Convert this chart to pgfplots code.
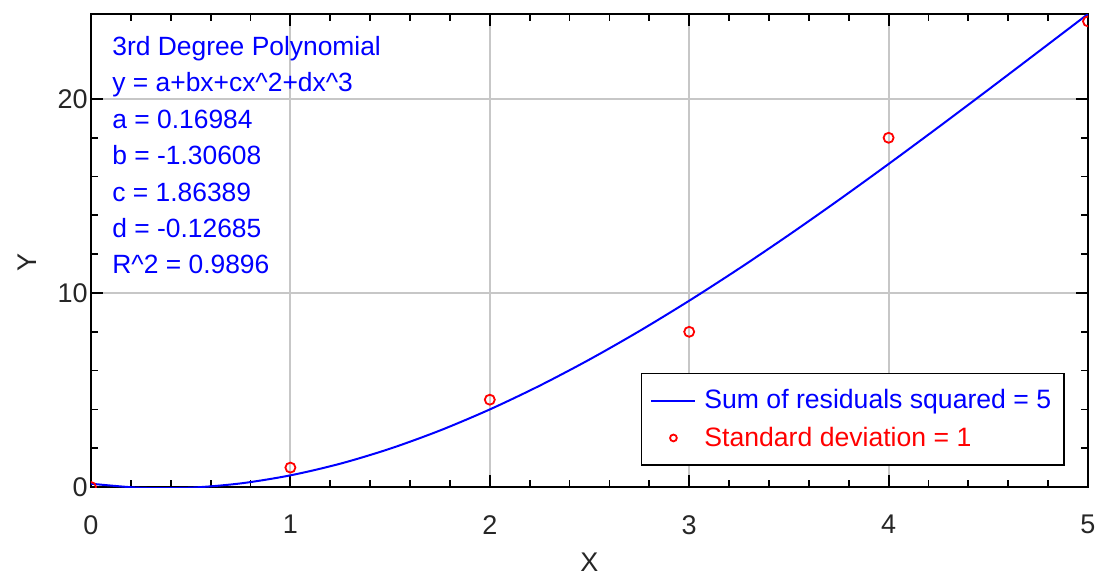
\documentclass[border=0pt]{standalone}
\usepackage{pgfplots}
\pgfplotsset{compat=1.18}
\usepackage{fontspec}
\setmainfont{Liberation Sans}
\pgfplotsset{
  lineleg/.style={legend image code/.code={\draw[##1] (0pt,0pt) -- (22pt,0pt);}},
  markleg/.style={legend image code/.code={\draw[##1, mark size=1.7pt] plot coordinates {(11pt,0pt)};}},
}
\begin{document}
\begin{tikzpicture}
\begin{axis}[
  scale only axis,
  width=498.5pt, height=236.5pt,
  xmin=0, xmax=5, ymin=0, ymax=24.38,
  xtick={0,1,2,3,4,5}, ytick={0,10,20},
  minor x tick num=4, minor y tick num=4,
  tick align=inside,
  major tick length=6pt, minor tick length=3.5pt,
  every tick/.style={black, line width=0.9pt},
  axis line style={black, line width=1pt},
  grid=major,
  major grid style={draw=black!22, line width=0.9pt},
  clip marker paths=true,
  /pgf/number format/assume math mode=true,
  tick label style={font=\fontsize{13.5}{16}\selectfont, text=black!85},
  xticklabel style={anchor=north, inner sep=0pt, yshift=-14pt},
  yticklabel style={anchor=east, inner sep=0pt, xshift=-1.5pt},
  xlabel={X}, ylabel={Y},
  label style={font=\fontsize{13.5}{16}\selectfont, text=black!85},
  xlabel style={at={(axis description cs:0.5,0)}, anchor=center, yshift=-37.5pt},
  ylabel style={at={(axis description cs:-0.064,0.4736)}, anchor=center},
  legend style={at={(axis description cs:0.977,0.0444)}, anchor=south east,
    draw=black, line width=0.9pt, fill=white,
    font=\fontsize{13.3}{16}\selectfont,
    inner xsep=4.5pt, inner ysep=6pt, row sep=3.5pt, column sep=2pt,
    cells={anchor=west}},
]
\addplot[blue, line width=1pt, smooth, no markers, lineleg]
  coordinates {
  (0,0.16984) (0.25,-0.04217) (0.5,-0.03308) (0.75,0.18520) (1,0.60080)
  (1.25,1.20181) (1.5,1.97635) (1.75,2.91253) (2,3.99844) (2.25,5.22220)
  (2.5,6.57192) (2.75,8.03571) (3,9.60166) (3.25,11.25790) (3.5,12.99252)
  (3.75,14.79414) (4,16.64936) (4.25,18.54779) (4.5,20.47705) (4.75,22.42573)
  (5,24.38044)
  };
\addlegendentry{\textcolor{blue}{Sum of residuals squared = 5}}
\addplot[red, only marks, mark=o, mark size=2.5pt, line width=0.9pt, markleg]
  coordinates {(0,0) (1,1) (2,4.5) (3,8) (4,18) (5,24)};
\addlegendentry{\textcolor{red}{Standard deviation = 1}}
\node[anchor=north west, inner sep=0pt, align=left, text=blue,
  font=\fontsize{13.2}{18.2}\selectfont, xshift=10.5pt, yshift=-11pt]
  at (rel axis cs:0,1)
  {3rd Degree Polynomial\\
   y = a+bx+cx\textasciicircum 2+dx\textasciicircum 3\\
   a = 0.16984\\
   b = -1.30608\\
   c = 1.86389\\
   d = -0.12685\\
   R\textasciicircum 2 = 0.9896};
\end{axis}
\path (current axis.south west) ++(-45.5pt,-46pt) coordinate (A);
\path (current axis.north east) ++(4.5pt,7pt) coordinate (B);
\pgfresetboundingbox
\path[use as bounding box] (A) rectangle (B);
\end{tikzpicture}
\end{document}
